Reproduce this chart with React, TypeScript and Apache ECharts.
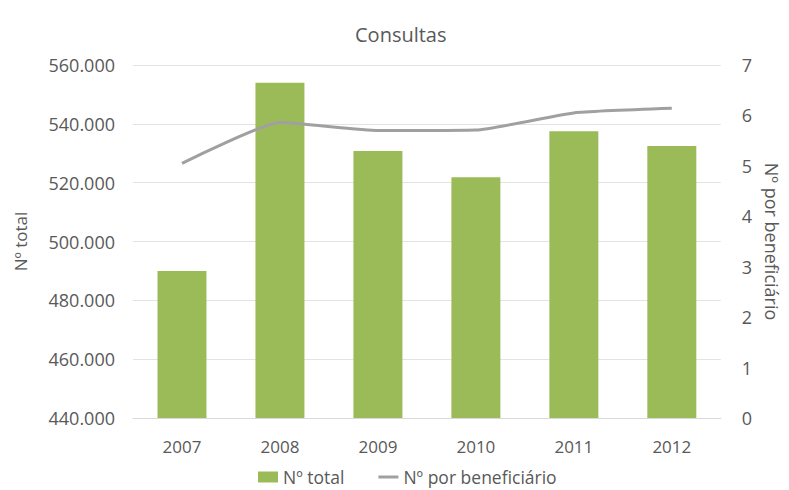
import React, { useEffect, useRef } from "react";
import * as echarts from "echarts";

const categories = ["2007", "2008", "2009", "2010", "2011", "2012"];
const totalValues = [490000, 554000, 530800, 521800, 537500, 532500];
const perBeneficiary = [5.05, 5.86, 5.7, 5.71, 6.05, 6.14];
const leftTicks = { min: 440000, max: 560000, interval: 20000 };
const rightTicks = { min: 0, max: 7, interval: 1 };

const FONT = "'Open Sans', sans-serif";
const TEXT = "#595959";

function fmt(v: number) {
  return v.toFixed(0).replace(/\B(?=(\d{3})+(?!\d))/g, ".");
}

export default function App() {
  const ref = useRef<HTMLDivElement>(null);
  useEffect(() => {
    if (!ref.current) return;
    const chart = echarts.init(ref.current, undefined, { renderer: "svg" });
    chart.setOption({
      animation: false,
      backgroundColor: "#ffffff",
      textStyle: { fontFamily: FONT },
      title: {
        text: "Consultas",
        left: 350,
        top: 19,
        textStyle: { fontFamily: FONT, fontSize: 20, fontWeight: "normal", color: TEXT },
      },
      legend: {
        top: 467,
        left: 258,
        padding: 0,
        itemWidth: 20,
        itemHeight: 11,
        itemGap: 34,
        textStyle: { fontFamily: FONT, fontSize: 17.5, color: TEXT, lineHeight: 20 },
        data: [
          { name: "Nº total", icon: "rect" },
          { name: "Nº por beneficiário", icon: "path://M0,0 H20 V3 H0 Z" },
        ],
      },
      grid: { left: 133, right: 62, top: 65, bottom: 72 },
      xAxis: {
        type: "category",
        data: categories,
        axisTick: { show: false },
        axisLine: { lineStyle: { color: "#d9d9d9" } },
        axisLabel: { color: TEXT, fontFamily: FONT, fontSize: 17, margin: 20 },
      },
      yAxis: [
        {
          type: "value",
          min: leftTicks.min,
          max: leftTicks.max,
          interval: leftTicks.interval,
          name: "Nº total",
          nameLocation: "middle",
          nameGap: 104,
          nameRotate: 90,
          nameTextStyle: { color: TEXT, fontFamily: FONT, fontSize: 17 },
          axisLine: { show: false },
          axisTick: { show: false },
          axisLabel: { color: TEXT, fontFamily: FONT, fontSize: 18, margin: 18, formatter: (v: number) => fmt(v) },
          splitLine: { lineStyle: { color: "#e3e3e3" } },
        },
        {
          type: "value",
          min: rightTicks.min,
          max: rightTicks.max,
          interval: rightTicks.interval,
          name: "Nº por beneficiário",
          nameLocation: "middle",
          nameGap: 36,
          nameRotate: -90,
          nameTextStyle: { color: TEXT, fontFamily: FONT, fontSize: 18 },
          axisLine: { show: false },
          axisTick: { show: false },
          axisLabel: { color: TEXT, fontFamily: FONT, fontSize: 18, margin: 21 },
          splitLine: { show: false },
        },
      ],
      series: [
        {
          name: "Nº total",
          type: "bar",
          data: totalValues,
          yAxisIndex: 0,
          barCategoryGap: "50%",
          itemStyle: { color: "#9bbb59" },
        },
        {
          name: "Nº por beneficiário",
          type: "line",
          data: perBeneficiary,
          yAxisIndex: 1,
          smooth: 0.15,
          symbol: "none",
          lineStyle: { color: "#a0a0a0", width: 3 },
          itemStyle: { color: "#a0a0a0" },
        },
      ],
    });
    return () => chart.dispose();
  }, []);
  return (
    <div
      ref={ref}
      style={{ position: "absolute", left: 0, top: 0, width: 789, height: 490 }}
    />
  );
}
